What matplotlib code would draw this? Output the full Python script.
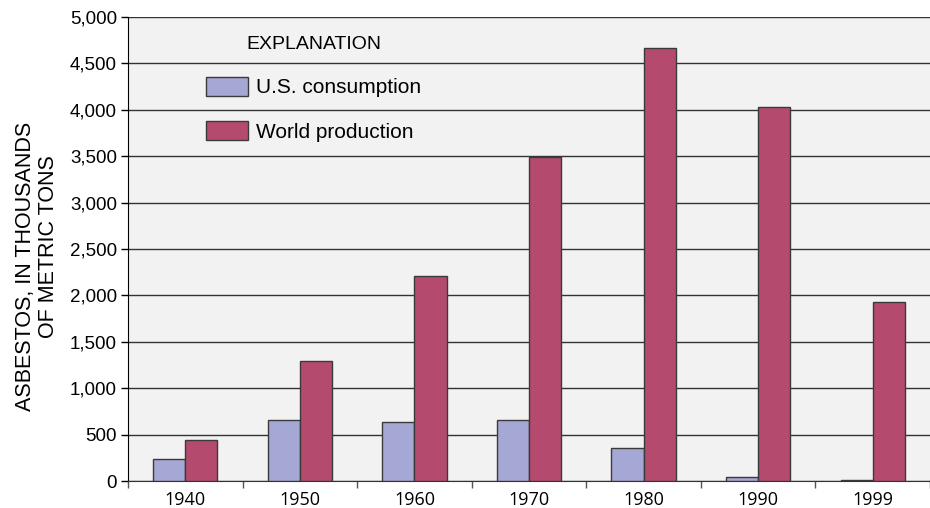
import matplotlib.pyplot as plt
import numpy as np

# ── Data ──────────────────────────────────────────────────────────────────────

years = ["1940", "1950", "1960", "1970", "1980", "1990", "1999"]
us_consumption = [240, 655, 640, 660, 355, 40, 15]
world_production = [440, 1290, 2210, 3490, 4670, 4025, 1930]
y_ticks = [0, 500, 1000, 1500, 2000, 2500, 3000, 3500, 4000, 4500, 5000]

# ── Style ─────────────────────────────────────────────────────────────────────

US_COLOR = "#a5a7d4"
WORLD_COLOR = "#b44b6f"
EDGE = "#3a3a3a"
FACE = "#f2f2f2"
plt.rcParams["font.family"] = ["Liberation Sans", "DejaVu Sans"]

fig = plt.figure(figsize=(9.30, 5.08), dpi=100)
ax = fig.add_axes([128 / 930, 1 - 481 / 508, 802 / 930, 464 / 508])
ax.set_facecolor(FACE)

x = np.arange(len(years))
w = 0.28
ax.bar(x - w / 2, us_consumption, w, color=US_COLOR, edgecolor=EDGE,
       linewidth=1, label="U.S. consumption", zorder=3)
ax.bar(x + w / 2, world_production, w, color=WORLD_COLOR, edgecolor=EDGE,
       linewidth=1, label="World production", zorder=3)

ax.set_xlim(-0.5, len(years) - 0.5)
ax.set_ylim(0, 5000)

# y axis
ax.set_yticks(y_ticks)
ax.set_yticklabels([f"{v:,}" for v in y_ticks])
ax.tick_params(axis="y", direction="out", length=5, width=1, pad=3,
               labelsize=13.5, colors="black")
ax.grid(axis="y", color="#333333", linewidth=1, zorder=0)

# x axis: labels at centres, ticks at category boundaries
ax.set_xticks(x)
ax.set_xticklabels(years, family=["Open Sans", "DejaVu Sans"])
ax.tick_params(axis="x", which="major", length=0, pad=7, labelsize=13)
ax.set_xticks(np.arange(-0.5, len(years)), minor=True)
ax.tick_params(axis="x", which="minor", direction="out", length=5,
               width=1, color="#555555")

for s in ["top", "right"]:
    ax.spines[s].set_visible(False)
ax.spines["left"].set_color("black")
ax.spines["bottom"].set_color("#333333")

# y label, two lines placed separately as in the original
fig.text(26 / 930, 1 - 266 / 508, "ASBESTOS, IN THOUSANDS", rotation=90,
         ha="center", va="center", fontsize=15.5)
fig.text(48 / 930, 1 - 247 / 508, "OF METRIC TONS", rotation=90,
         ha="center", va="center", fontsize=15.5)

# ── Legend ────────────────────────────────────────────────────────────────────

leg = ax.legend(loc="upper left", bbox_to_anchor=(206 / 930, 1 - 36 / 508),
                bbox_transform=fig.transFigure, frameon=False,
                title="EXPLANATION", title_fontsize=14, fontsize=15,
                handlelength=2.0, handleheight=1.0, handletextpad=0.4,
                labelspacing=1.15, borderpad=0, borderaxespad=0)

fig.savefig("out.png", dpi=100)
